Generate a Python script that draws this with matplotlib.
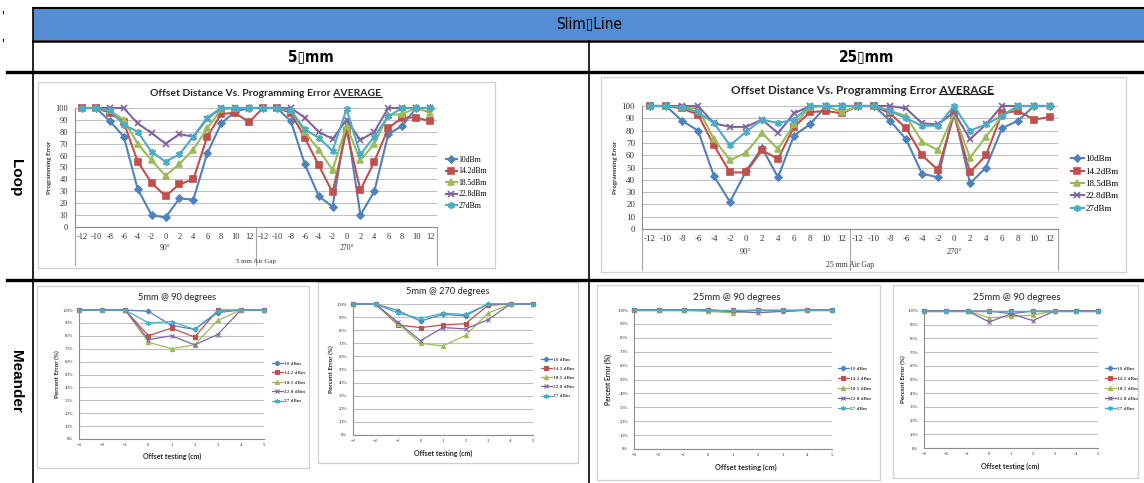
import matplotlib
matplotlib.use("Agg")
import matplotlib.pyplot as plt
import matplotlib.transforms as mtransforms
from matplotlib.lines import Line2D
from matplotlib.patches import Rectangle

plt.rcParams["font.family"] = ["Lato", "DejaVu Sans"]

# ===================== data =====================
loop_offsets = [-12, -10, -8, -6, -4, -2, 0, 2, 4, 6, 8, 10, 12]
loop_groups = ["90°", "270°"]
power_short = ["10dBm", "14.2dBm", "18.5dBm", "22.8dBm", "27dBm"]
power_long = ["10 dBm", "14.2 dBm", "18.5 dBm", "22.8 dBm", "27 dBm"]

# loop, 5 mm air gap (90° then 270°)
loop5_10 = [100, 100, 89, 76, 32, 10, 8, 24, 23, 62, 87, 97, 100,
            100, 100, 89, 53, 26, 17, 88, 10, 30, 78, 85, 100, 100]
loop5_14 = [100, 100, 96, 88, 55, 37, 26, 36, 40, 76, 95, 96, 88,
            100, 100, 96, 75, 52, 29, 81, 31, 55, 83, 92, 92, 89]
loop5_18 = [100, 100, 98, 90, 70, 56, 43, 53, 65, 83, 99, 100, 100,
            100, 100, 98, 80, 65, 48, 85, 56, 70, 94, 95, 100, 96]
loop5_22 = [100, 100, 100, 100, 87, 79, 70, 78, 76, 91, 100, 100, 100,
            100, 100, 100, 92, 80, 74, 90, 73, 80, 100, 100, 100, 100]
loop5_27 = [100, 100, 98, 86, 80, 63, 55, 61, 76, 92, 100, 100, 100,
            100, 100, 98, 82, 75, 64, 99, 61, 76, 93, 100, 100, 100]

# loop, 25 mm air gap
loop25_10 = [100, 100, 88, 80, 43, 22, 47, 66, 42, 76, 85, 100, 100,
             100, 100, 88, 73, 45, 42, 96, 37, 50, 82, 88, 100, 100]
loop25_14 = [100, 100, 98, 93, 68, 46, 46, 64, 57, 83, 95, 96, 94,
             100, 100, 94, 82, 60, 48, 93, 46, 60, 94, 96, 89, 91]
loop25_18 = [100, 100, 99, 98, 73, 56, 62, 78, 65, 85, 99, 100, 95,
             100, 100, 96, 92, 71, 64, 94, 58, 75, 92, 100, 100, 100]
loop25_22 = [100, 100, 100, 100, 86, 83, 83, 89, 78, 94, 100, 100, 100,
             100, 100, 100, 98, 86, 85, 95, 73, 85, 100, 100, 100, 100]
loop25_27 = [100, 100, 99, 95, 86, 68, 79, 89, 86, 89, 100, 100, 100,
             100, 100, 96, 90, 84, 84, 100, 80, 85, 92, 100, 100, 100]

meander_offsets = [-3, -2, -1, 0, 1, 2, 3, 4, 5]

m5_90_10 = [100, 100, 100, 99, 88, 85, 98, 100, 100]
m5_90_14 = [100, 100, 100, 80, 86, 79, 100, 100, 100]
m5_90_18 = [100, 100, 100, 75, 70, 73, 92, 100, 100]
m5_90_22 = [100, 100, 100, 77, 80, 73, 81, 100, 100]
m5_90_27 = [100, 100, 100, 90, 91, 85, 99, 100, 100]

m5_270_10 = [100, 100, 95, 87, 92, 91, 100, 100, 100]
m5_270_14 = [100, 100, 84, 82, 84, 85, 99, 100, 100]
m5_270_18 = [100, 100, 85, 70, 68, 76, 93, 100, 100]
m5_270_22 = [100, 100, 86, 72, 82, 81, 88, 100, 100]
m5_270_27 = [100, 100, 93, 89, 93, 92, 100, 100, 100]

m25_a_10 = [100, 100, 100, 100, 99, 100, 99, 100, 100]
m25_a_14 = [100, 100, 100, 100, 100, 100, 100, 100, 100]
m25_a_18 = [100, 100, 100, 99, 98, 100, 100, 100, 100]
m25_a_22 = [100, 100, 100, 100, 99, 98, 99, 100, 100]
m25_a_27 = [100, 100, 100, 100, 100, 100, 100, 100, 100]

m25_b_10 = [100, 100, 100, 100, 98, 100, 100, 100, 100]
m25_b_14 = [100, 100, 100, 100, 100, 100, 100, 100, 100]
m25_b_18 = [100, 100, 100, 95, 96, 97, 100, 100, 100]
m25_b_22 = [100, 100, 100, 92, 98, 93, 100, 100, 100]
m25_b_27 = [100, 100, 100, 100, 100, 100, 100, 100, 100]

COLORS = ["#4F81BD", "#C0504D", "#9BBB59", "#8064A2", "#4BACC6"]
MARKERS = ["D", "s", "^", "x", (6, 2, 0)]

# ===================== figure =====================
W, H = 1144, 483
fig = plt.figure(figsize=(W / 100, H / 100), dpi=100)


def fx(x):
    return x / W


def fy(y):
    return 1 - y / H


def box(x0, y0, x1, y1):
    return [fx(x0), fy(y1), (x1 - x0) / W, (y1 - y0) / H]


def hline(y, x0, x1, lw=1.5, color="black"):
    fig.add_artist(Line2D([fx(x0), fx(x1)], [fy(y), fy(y)], color=color, lw=lw))


def vline(x, y0, y1, lw=1.5, color="black"):
    fig.add_artist(Line2D([fx(x), fx(x)], [fy(y0), fy(y1)], color=color, lw=lw))


def frame(x0, y0, x1, y1):
    fig.add_artist(Rectangle((fx(x0), fy(y1)), fx(x1) - fx(x0), fy(y0) - fy(y1),
                             fill=False, ec="#d0d0d0", lw=0.9))


def underlined_title(cx, cy, size, head, tail):
    t = fig.text(fx(cx), fy(cy), head + tail, fontsize=size, weight="bold",
                 ha="center", va="center", color="#262626")
    r = fig.canvas.get_renderer()
    bb = t.get_window_extent(r)
    tmp = fig.text(0, 0, tail, fontsize=size, weight="bold")
    w = tmp.get_window_extent(r).width
    tmp.remove()
    inv = fig.transFigure.inverted()
    (ax0, ay), (ax1, _) = inv.transform([(bb.x1 - w, bb.y0 + 1.5), (bb.x1, bb.y0)])
    fig.add_artist(Line2D([ax0, ax1], [ay, ay], color="#262626", lw=0.8))


def style_axes(ax, tick_size, family, ypad, xpad):
    for s in ("top", "right"):
        ax.spines[s].set_visible(False)
    for s in ("left", "bottom"):
        ax.spines[s].set_color("#8c8c8c")
        ax.spines[s].set_linewidth(0.8)
    ax.yaxis.grid(True, color="#bfbfbf", lw=0.8)
    ax.set_axisbelow(True)
    ax.tick_params(axis="y", length=0, pad=ypad, labelsize=tick_size, labelcolor="#333333")
    ax.tick_params(axis="x", length=0, pad=xpad, labelsize=tick_size, labelcolor="#333333")
    for lab in ax.get_xticklabels() + ax.get_yticklabels():
        lab.set_family(family)


def loop_chart(series, fr, pl, title_c, title_size, tick_size, leg, leg_size, leg_space,
               group_y, gap_y, gap_text, ylab_x, sep_bottom):
    frame(*fr)
    ax = fig.add_axes(box(*pl))
    xs = list(range(len(loop_offsets) * 2))
    sizes = [3.5, 4.5, 4.5, 4, 5]
    for vals, c, m, ms, lab in zip(series, COLORS, MARKERS, sizes, power_short):
        ax.plot(xs, vals, color=c, marker=m, ms=ms, lw=1.5, mew=1.2, label=lab, clip_on=False)
    ax.set_xlim(-0.5, len(xs) - 0.5)
    ax.set_ylim(0, 100)
    ax.set_yticks(range(0, 101, 10))
    ax.set_xticks(xs, loop_offsets * 2)
    style_axes(ax, tick_size, "Liberation Serif", 5, 4)

    tr = mtransforms.blended_transform_factory(ax.transData, fig.transFigure)
    n = len(loop_offsets)
    for xsep in (-0.5, n - 0.5, 2 * n - 0.5):
        ax.add_line(Line2D([xsep, xsep], [fy(pl[3]), fy(sep_bottom)], transform=tr,
                           color="#a6a6a6", lw=0.8, clip_on=False))
    for i, g in enumerate(loop_groups):
        ax.text((n - 1) / 2 + i * n, fy(group_y), g, transform=tr, ha="center", va="center",
                fontsize=tick_size - 0.5, family="Liberation Serif", color="#333333")
    ax.text(n - 0.5, fy(gap_y), gap_text, transform=tr, ha="center", va="center",
            fontsize=tick_size - 1, family="Liberation Serif", color="#333333")

    fig.text(fx(ylab_x), fy((pl[1] + pl[3]) / 2), "Programming Error", rotation=90,
             ha="center", va="center", fontsize=4.5, weight="bold", color="#333333")
    underlined_title(title_c[0], title_c[1], title_size,
                     "Offset Distance Vs. Programming Error ", "AVERAGE")
    ax.legend(loc="upper left", bbox_to_anchor=(fx(leg[0]), fy(leg[1])),
              bbox_transform=fig.transFigure, frameon=False, borderpad=0, borderaxespad=0,
              handlelength=1.4, handletextpad=0.2, labelspacing=leg_space,
              prop={"family": "Liberation Serif", "size": leg_size})


def meander_chart(series, title, fr, pl, title_c, title_size, xlab_c, lab_size, ylab_x,
                  leg, leg_space):
    frame(*fr)
    ax = fig.add_axes(box(*pl))
    sizes = [2.5, 3, 3, 3, 3.5]
    for vals, c, m, ms, lab in zip(series, COLORS, MARKERS, sizes, power_long):
        ax.plot(meander_offsets, vals, color=c, marker=m, ms=ms, lw=0.9, mew=0.8,
                label=lab, clip_on=False)
    ax.set_xlim(meander_offsets[0], meander_offsets[-1])
    ax.set_ylim(0, 100)
    ax.set_yticks(range(0, 101, 10), [f"{v}%" for v in range(0, 101, 10)])
    ax.set_xticks(meander_offsets)
    style_axes(ax, 3.4, "Liberation Serif", 4, 3)
    fig.text(fx(title_c[0]), fy(title_c[1]), title, ha="center", va="center",
             fontsize=title_size, color="#262626")
    fig.text(fx(xlab_c[0]), fy(xlab_c[1]), "Offset testing (cm)", ha="center", va="center",
             fontsize=lab_size, weight="bold", color="#262626")
    fig.text(fx(ylab_x), fy((pl[1] + pl[3]) / 2), "Percent Error (%)", rotation=90,
             ha="center", va="center", fontsize=lab_size - 0.5, weight="bold", color="#262626")
    ax.legend(loc="upper left", bbox_to_anchor=(fx(leg[0]), fy(leg[1])),
              bbox_transform=fig.transFigure, frameon=False, borderpad=0, borderaxespad=0,
              handlelength=2.0, handletextpad=0.3, labelspacing=leg_space,
              prop={"family": "Liberation Serif", "size": 3.8})


# ===================== table =====================
fig.add_artist(Rectangle((fx(33), fy(40)), 1 - fx(33), fy(8) - fy(40),
                         facecolor="#548DD4", edgecolor="none"))
hline(8, 33, W, lw=1.5)
hline(41, 33, W, lw=1.8)
hline(72, 7, W, lw=2.4)
hline(280, 7, W, lw=2.4)
vline(33, 8, H, lw=1.2)
vline(589, 41, H, lw=1.2)
vline(3, 11, 13, lw=0.8)
vline(3, 39, 41, lw=0.8)

head_font = ["DejaVu Sans"]
fig.text(fx(589), fy(24), "Slim\u25afLine", ha="center", va="center", fontsize=11,
         family=head_font, stretch="condensed", color="black")
fig.text(fx(311), fy(57), "5\u25afmm", ha="center", va="center", fontsize=11,
         weight="bold", family=head_font, stretch="condensed")
fig.text(fx(867), fy(57), "25\u25afmm", ha="center", va="center", fontsize=11,
         weight="bold", family=head_font, stretch="condensed")
fig.text(fx(16), fy(178), "Loop", rotation=-90, ha="center", va="center", fontsize=11,
         weight="bold", family=["Liberation Sans", "DejaVu Sans"])
fig.text(fx(16), fy(381), "Meander", rotation=-90, ha="center", va="center", fontsize=11,
         weight="bold", family=["Liberation Sans", "DejaVu Sans"])

# ===================== charts =====================
loop_chart([loop5_10, loop5_14, loop5_18, loop5_22, loop5_27],
           (38, 82, 495, 268), (75, 108, 437, 227), (266, 94), 7.5, 6, (446, 156), 5.5, 0.45,
           248, 261, "5 mm Air Gap", 50, 265)
loop_chart([loop25_10, loop25_14, loop25_18, loop25_22, loop25_27],
           (601, 77, 1126, 272), (642, 106, 1058, 229), (862, 90), 8.5, 6.5, (1071, 155), 6.5,
           0.45, 252, 265, "25 mm Air Gap", 615, 270)

meander_chart([m5_90_10, m5_90_14, m5_90_18, m5_90_22, m5_90_27], "5mm @ 90 degrees",
              (37, 286, 309, 468), (79, 310, 264, 439), (177, 297), 6.7, (172, 456), 5, 57,
              (272, 361), 0.9)
meander_chart([m5_270_10, m5_270_14, m5_270_18, m5_270_22, m5_270_27], "5mm @ 270 degrees",
              (318, 282, 578, 463), (353, 304, 533, 435), (448, 292), 6.7, (443, 453), 5, 331,
              (541, 357), 0.85)
meander_chart([m25_a_10, m25_a_14, m25_a_18, m25_a_22, m25_a_27], "25mm @ 90 degrees",
              (597, 285, 880, 480), (634, 310, 832, 449), (737, 297), 7, (746, 467), 5.3, 608,
              (838, 366), 1.0)
meander_chart([m25_b_10, m25_b_14, m25_b_18, m25_b_22, m25_b_27], "25mm @ 90 degrees",
              (893, 285, 1138, 478), (924, 311, 1098, 448), (1017, 298), 7, (1010, 466), 5, 903,
              (1105, 366), 1.0)

fig.savefig("out.png", dpi=100)
